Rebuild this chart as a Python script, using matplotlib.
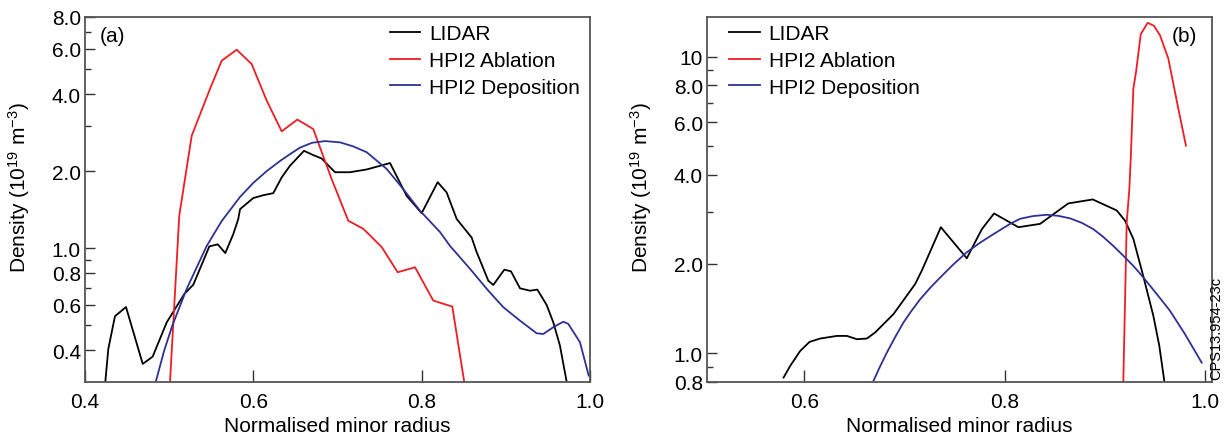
import matplotlib
matplotlib.use("Agg")
import matplotlib.pyplot as plt
from matplotlib.ticker import FixedLocator, FixedFormatter, NullFormatter

plt.rcParams['font.family'] = ['Liberation Sans', 'DejaVu Sans']
plt.rcParams['mathtext.fontset'] = 'custom'
plt.rcParams['mathtext.rm'] = 'Liberation Sans'
plt.rcParams['mathtext.it'] = 'Liberation Sans'

# panel (a)
lidar_a_x = [0.4241, 0.4277, 0.4356, 0.4487, 0.4686, 0.4804, 0.4971, 0.518, 0.5287, 0.5477,
             0.5577, 0.5667, 0.5762, 0.5821, 0.5842, 0.60, 0.6118, 0.6237, 0.6337, 0.6436,
             0.6602, 0.6712, 0.6812, 0.697, 0.7148, 0.7347, 0.7624, 0.7822, 0.80, 0.819,
             0.8297, 0.8416, 0.8594, 0.8654, 0.8792, 0.8851, 0.8982, 0.9061, 0.9168, 0.9287,
             0.9374, 0.9485, 0.9564, 0.9643, 0.9723]
lidar_a_y = [0.30, 0.404, 0.542, 0.589, 0.353, 0.377, 0.513, 0.662, 0.720, 1.016,
             1.035, 0.957, 1.135, 1.30, 1.42, 1.57, 1.61, 1.64, 1.89, 2.10,
             2.40, 2.31, 2.24, 1.98, 1.98, 2.03, 2.15, 1.60, 1.37, 1.81,
             1.65, 1.30, 1.10, 0.964, 0.746, 0.718, 0.824, 0.812, 0.697, 0.682,
             0.689, 0.600, 0.513, 0.416, 0.30]

abl_a_x = [0.501, 0.512, 0.5268, 0.5485, 0.5624, 0.5802, 0.598, 0.6159, 0.6337, 0.6523,
           0.6712, 0.6931, 0.7128, 0.7307, 0.7525, 0.7715, 0.7921, 0.8138, 0.8364, 0.8506]
abl_a_y = [0.30, 1.34, 2.75, 4.19, 5.40, 5.96, 5.24, 3.77, 2.86, 3.18,
           2.92, 1.86, 1.28, 1.19, 1.01, 0.805, 0.842, 0.624, 0.591, 0.30]

dep_a_x = [0.484, 0.4939, 0.5037, 0.5208, 0.5446, 0.5624, 0.5842, 0.60, 0.6159, 0.6317,
           0.6436, 0.6554, 0.6697, 0.6851, 0.703, 0.7184, 0.7347, 0.7584, 0.7782, 0.798,
           0.8218, 0.8337, 0.8575, 0.8792, 0.897, 0.9168, 0.9366, 0.9445, 0.9564, 0.9683,
           0.9742, 0.9881, 0.9984]
dep_a_y = [0.30, 0.396, 0.498, 0.693, 1.02, 1.276, 1.585, 1.80, 2.00, 2.19,
           2.33, 2.47, 2.58, 2.62, 2.59, 2.50, 2.37, 2.04, 1.70, 1.40,
           1.156, 1.02, 0.830, 0.682, 0.588, 0.521, 0.465, 0.462, 0.491, 0.516,
           0.506, 0.429, 0.318]

# panel (b)
lidar_b_x = [0.5794, 0.586, 0.596, 0.6053, 0.616, 0.6326, 0.6426, 0.6526, 0.6625, 0.6708,
             0.6891, 0.7107, 0.7174, 0.7364, 0.7623, 0.7706, 0.7773, 0.7895, 0.8138, 0.8354,
             0.8636, 0.888, 0.9119, 0.9202, 0.9285, 0.9384, 0.9484, 0.9544, 0.9594]
lidar_b_y = [0.828, 0.906, 1.018, 1.092, 1.121, 1.144, 1.144, 1.115, 1.121, 1.175,
             1.355, 1.71, 1.90, 2.66, 2.09, 2.37, 2.62, 2.96, 2.66, 2.73,
             3.20, 3.30, 3.03, 2.80, 2.43, 1.82, 1.34, 1.06, 0.806]

abl_b_x = [0.9185, 0.9219, 0.9245, 0.9259, 0.9285, 0.9312, 0.9359, 0.9428, 0.9491, 0.9551,
           0.9634, 0.9734, 0.981]
abl_b_y = [0.806, 2.77, 3.58, 4.52, 7.80, 8.88, 11.9, 13.0, 12.7, 11.8,
           9.85, 6.67, 5.01]

dep_b_x = [0.6691, 0.6758, 0.6825, 0.6908, 0.6991, 0.7067, 0.7157, 0.7257, 0.7357, 0.7486,
           0.7623, 0.7756, 0.7888, 0.8055, 0.8155, 0.8284, 0.8421, 0.8534, 0.8653, 0.8773,
           0.8886, 0.8983, 0.9085, 0.9182, 0.9285, 0.9372, 0.9451, 0.9551, 0.9651, 0.9801,
           0.9967]
dep_b_y = [0.806, 0.904, 1.005, 1.134, 1.27, 1.384, 1.52, 1.661, 1.80, 1.989,
           2.19, 2.36, 2.52, 2.73, 2.84, 2.90, 2.93, 2.906, 2.85, 2.749,
           2.62, 2.47, 2.30, 2.137, 1.97, 1.823, 1.69, 1.534, 1.39, 1.159,
           0.93]

ticks_a = [0.4, 0.6, 0.8, 1.0, 2.0, 4.0, 6.0, 8.0]
labels_a = ["0.4", "0.6", "0.8", "1.0", "2.0", "4.0", "6.0", "8.0"]
minor_a = [0.5, 0.7, 0.9, 3.0, 5.0, 7.0]
ticks_b = [0.8, 1.0, 2.0, 4.0, 6.0, 8.0, 10.0]
labels_b = ["0.8", "1.0", "2.0", "4.0", "6.0", "8.0", "10"]
minor_b = [0.9, 3.0, 5.0, 7.0, 9.0]

names = ["LIDAR", "HPI2 Ablation", "HPI2 Deposition"]
colors = ["black", "#ee1c24", "#2e3192"]

fig = plt.figure(figsize=(12.26, 4.35), dpi=100)
axa = fig.add_axes([85/1226, 1-383/435, 505/1226, 365/435])
axb = fig.add_axes([707/1226, 1-383/435, 505/1226, 365/435])

def style(ax, xt, yt, ylab, ymin):
    ax.set_yscale("log")
    ax.yaxis.set_major_locator(FixedLocator(yt))
    ax.yaxis.set_major_formatter(FixedFormatter(ylab))
    ax.yaxis.set_minor_locator(FixedLocator(ymin))
    ax.yaxis.set_minor_formatter(NullFormatter())
    ax.set_xticks(xt)
    ax.set_xticklabels(["%.1f" % v for v in xt])
    ax.tick_params(axis="y", which="major", direction="in", length=7, width=1, pad=3,
                   labelsize=15, color="#333333")
    ax.tick_params(axis="y", which="minor", direction="in", length=4, width=1, color="#333333")
    ax.tick_params(axis="x", which="major", direction="in", length=8.5, width=1, pad=7,
                   labelsize=15, color="#333333")
    for s in ax.spines.values():
        s.set_color("#555555")
        s.set_linewidth(1.3)
    ax.set_xlabel("Normalised minor radius", fontsize=15, labelpad=4)
    ax.set_ylabel(r"Density (10$^{19}$ m$^{-3}$)", fontsize=15)
    ax.yaxis.set_label_coords(-0.105, 0.535)

lw = 1.3
axa.plot(lidar_a_x, lidar_a_y, color=colors[0], lw=lw, label=names[0])
axa.plot(abl_a_x, abl_a_y, color=colors[1], lw=lw, label=names[1])
axa.plot(dep_a_x, dep_a_y, color=colors[2], lw=lw, label=names[2])
axa.set_xlim(0.4, 1.0)
axa.set_ylim(0.3, 8.0)
style(axa, [0.4, 0.6, 0.8, 1.0], ticks_a, labels_a, minor_a)
axa.text(0.03, 0.975, "(a)", transform=axa.transAxes, fontsize=15, va="top", ha="left")
axa.legend(loc="upper left", bbox_to_anchor=(0.59, 1.0), frameon=False, fontsize=15,
           handlelength=1.45, handletextpad=0.43, labelspacing=0.37, borderpad=0.35,
           borderaxespad=0)

axb.plot(lidar_b_x, lidar_b_y, color=colors[0], lw=lw, label=names[0])
axb.plot(abl_b_x, abl_b_y, color=colors[1], lw=lw, label=names[1])
axb.plot(dep_b_x, dep_b_y, color=colors[2], lw=lw, label=names[2])
axb.set_xlim(0.503, 1.007)
axb.set_ylim(0.8, 13.6)
style(axb, [0.6, 0.8, 1.0], ticks_b, labels_b, minor_b)
axb.text(0.97, 0.975, "(b)", transform=axb.transAxes, fontsize=15, va="top", ha="right")
axb.legend(loc="upper left", bbox_to_anchor=(0.03, 1.0), frameon=False, fontsize=15,
           handlelength=1.45, handletextpad=0.43, labelspacing=0.37, borderpad=0.35,
           borderaxespad=0)

fig.text(1216/1226, 1-380/435, "CPS13.954-23c", rotation=90, fontsize=10.5,
         ha="center", va="bottom")

fig.savefig("out.png", dpi=100)
